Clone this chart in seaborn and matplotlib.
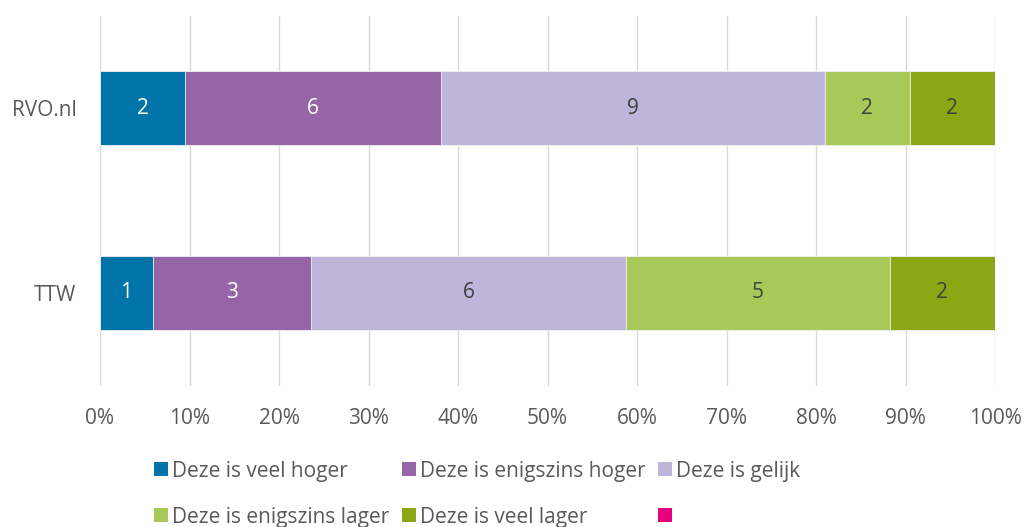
import matplotlib
matplotlib.use("Agg")
import matplotlib.pyplot as plt
from matplotlib.patches import Patch
import numpy as np
import pandas as pd
import seaborn as sns

# Survey counts per organisation
categories = ["RVO.nl", "TTW"]
series_names = [
    "Deze is veel hoger",
    "Deze is enigszins hoger",
    "Deze is gelijk",
    "Deze is enigszins lager",
    "Deze is veel lager",
]
veel_hoger = [2, 1]
enigszins_hoger = [6, 3]
gelijk = [9, 6]
enigszins_lager = [2, 5]
veel_lager = [2, 2]

colors = ["#0073A8", "#9565A7", "#BEB6DA", "#A8C957", "#8CA614"]
extra_color = "#E6007E"
label_colors = ["white", "white", "#404040", "#404040", "#404040"]

sns.set_theme(style="white")
plt.rcParams["font.family"] = ["Open Sans", "DejaVu Sans"]
FS = 15

counts = np.array([veel_hoger, enigszins_hoger, gelijk, enigszins_lager, veel_lager], dtype=float)
shares = counts / counts.sum(axis=0) * 100
cum = np.cumsum(shares, axis=0)

fig = plt.figure(figsize=(10.24, 5.27), dpi=100)
ax = fig.add_axes([100 / 1024, 1 - 385.5 / 527, 895 / 1024, 370 / 527])

# Stacked bars: draw cumulative totals from the longest down so each segment shows
for i in range(len(series_names) - 1, -1, -1):
    df = pd.DataFrame({"cat": categories, "val": cum[i]})
    sns.barplot(data=df, x="val", y="cat", orient="h", color=colors[i],
                width=0.405, edgecolor="#F2F2F2", linewidth=0.6,
                saturation=1, ax=ax, zorder=3)

# Segment value labels
for i in range(len(series_names)):
    for j in range(len(categories)):
        start = cum[i][j] - shares[i][j]
        ax.text(start + shares[i][j] / 2, j, f"{int(counts[i][j])}",
                ha="center", va="center", fontsize=FS,
                color=label_colors[i], zorder=4)

ax.set_xlim(0, 100)
ax.set_ylim(1.5, -0.5)
ax.set_xticks(np.arange(0, 101, 10))
ax.set_xticklabels([f"{v}%" for v in range(0, 101, 10)])
ax.set_xlabel("")
ax.set_ylabel("")
ax.grid(axis="x", color="#D9D9D9", linewidth=1, zorder=0)
ax.grid(axis="y", visible=False)
for s in ax.spines.values():
    s.set_visible(False)
ax.tick_params(axis="both", length=0, labelsize=FS, labelcolor="#595959")
ax.tick_params(axis="x", pad=16)
ax.tick_params(axis="y", pad=17)

# Legend laid out row by row in three columns
handles = [Patch(facecolor=c, edgecolor="none") for c in colors] + \
          [Patch(facecolor=extra_color, edgecolor="none")]
labels = series_names + [""]
order = [0, 3, 1, 4, 2, 5]
leg = fig.legend([handles[k] for k in order], [labels[k] for k in order],
                 ncol=3, loc="upper left", bbox_to_anchor=(139 / 1024, 1 - 446 / 527),
                 frameon=False, fontsize=FS, handlelength=0.68, handleheight=0.68,
                 handletextpad=0.2, columnspacing=0.6, labelspacing=1.2,
                 borderpad=0.2)
for t in leg.get_texts():
    t.set_color("#595959")

fig.savefig("out.png", dpi=100, facecolor="white")
